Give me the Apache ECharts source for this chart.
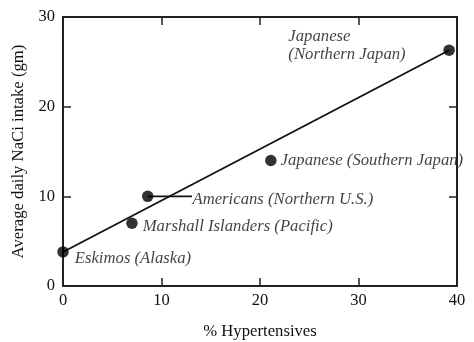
<!DOCTYPE html>
<html>
<head>
<meta charset="utf-8">
<script src="https://cdn.jsdelivr.net/npm/echarts@6/dist/echarts.min.js"></script>
<style>html,body{margin:0;padding:0;background:#fff}#c{width:474px;height:342px}</style>
</head>
<body>
<div id="c"></div>
<script>
// ---- data ----
const groups = ['Eskimos (Alaska)', 'Marshall Islanders (Pacific)', 'Americans (Northern U.S.)', 'Japanese (Southern Japan)', 'Japanese\n(Northern Japan)'];
const hypertensives = [0, 7, 8.6, 21.1, 39.2];
const saltIntake = [3.8, 7, 10, 14, 26.3];
const fitX = [0, 39.2];
const fitY = [3.8, 26.3];
const leaderX = [8.6, 13.1];
const leaderY = [10, 10];
const xTicks = [0, 10, 20, 30, 40];
const yTicks = [0, 10, 20, 30];

// ---- styling (not data) ----
const FONT = 'Liberation Serif';
const TXT = '#111';
const labelStyles = [
  {position: 'right', offset: [1, 7]},
  {position: 'right', offset: [0, 3]},
  {position: 'right', offset: [34, 3]},
  {position: 'right', offset: [-1, 0]},
  {position: 'left', align: 'left', offset: [-150, -5]}
];

const chart = echarts.init(document.getElementById('c'), null, {renderer: 'canvas'});
const axisLine = {show: true, onZero: false, lineStyle: {color: '#222', width: 2}};
const tick = {show: true, inside: true, length: 8, lineStyle: {color: '#222', width: 1.5}};

const pts = hypertensives.map((x, i) => ({
  value: [x, saltIntake[i]],
  name: groups[i],
  label: Object.assign({show: true, formatter: groups[i]}, labelStyles[i])
}));

chart.setOption({
  backgroundColor: '#fff',
  animation: false,
  grid: {left: 63, right: 17, top: 17, bottom: 56, containLabel: false, outerBoundsMode: 'none'},
  xAxis: [
    {type: 'value', min: 0, max: 40, interval: 10, position: 'bottom',
     name: '% Hypertensives', nameLocation: 'middle', nameGap: 37,
     nameTextStyle: {fontFamily: FONT, fontSize: 16.7, color: TXT},
     axisLine, axisTick: tick, splitLine: {show: false},
     axisLabel: {fontFamily: FONT, fontSize: 16.5, color: TXT, margin: 6,
       formatter: v => xTicks.includes(v) ? String(v) : ''}},
    {type: 'value', min: 0, max: 40, interval: 10, position: 'top',
     axisLine, axisTick: tick, splitLine: {show: false}, axisLabel: {show: false}}
  ],
  yAxis: [
    {type: 'value', min: 0, max: 30, interval: 10, position: 'left',
     name: 'Average daily NaCi intake (gm)', nameLocation: 'middle', nameGap: 29, nameRotate: 90,
     nameTextStyle: {fontFamily: FONT, fontSize: 16.7, color: TXT},
     axisLine, axisTick: tick, splitLine: {show: false},
     axisLabel: {fontFamily: FONT, fontSize: 16.5, color: TXT, margin: 8,
       formatter: v => yTicks.includes(v) ? String(v) : ''}},
    {type: 'value', min: 0, max: 30, interval: 10, position: 'right',
     axisLine, axisTick: tick, splitLine: {show: false}, axisLabel: {show: false}}
  ],
  series: [
    {type: 'line', data: fitX.map((x, i) => [x, fitY[i]]), symbol: 'none',
     lineStyle: {color: '#111', width: 1.8}, silent: true, z: 2},
    {type: 'line', data: leaderX.map((x, i) => [x, leaderY[i]]), symbol: 'none',
     lineStyle: {color: '#111', width: 1.8}, silent: true, z: 2},
    {type: 'scatter', data: pts, symbolSize: 11.5, itemStyle: {color: '#000'}, z: 3,
     label: {fontFamily: FONT, fontStyle: 'italic', fontSize: 16.7, color: TXT, lineHeight: 18}}
  ]
});
</script>
</body>
</html>
